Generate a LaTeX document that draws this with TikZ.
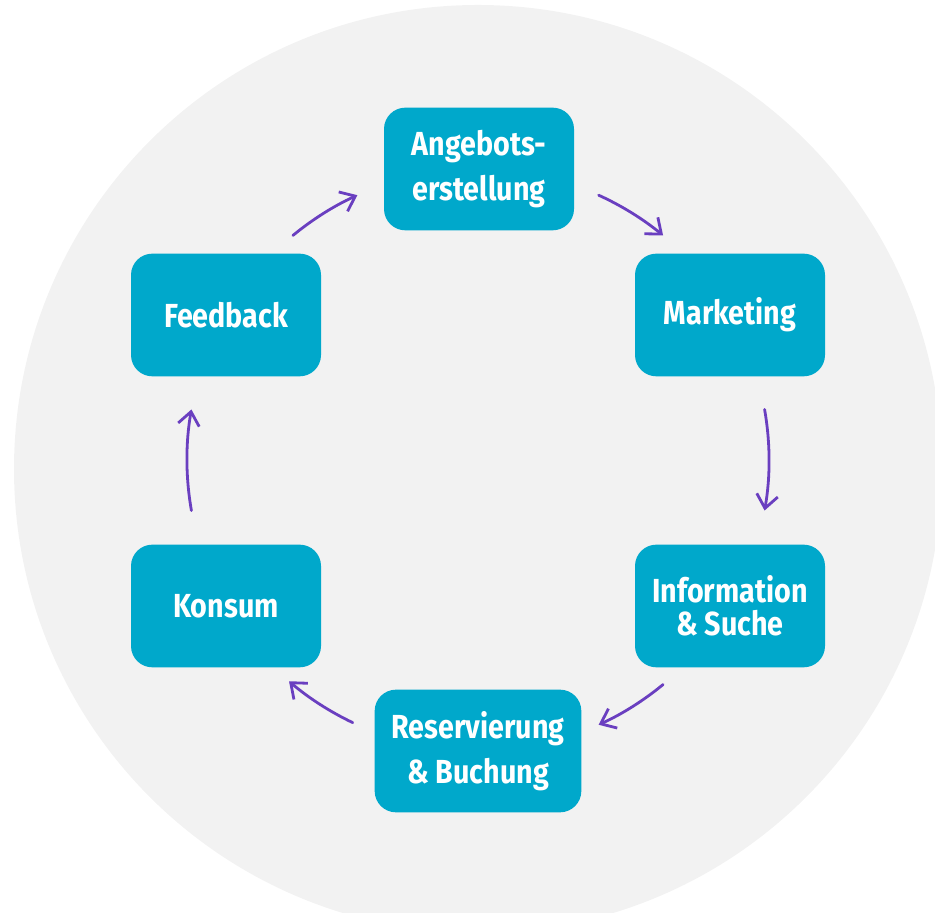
\documentclass[tikz,border=0pt]{standalone}
\usepackage{fontspec}
\setmainfont{Fira Sans}[FakeStretch=0.86]
\usetikzlibrary{arrows.meta,calc}
\definecolor{boxblue}{HTML}{00A8CB}
\definecolor{bggray}{HTML}{F2F2F2}
\definecolor{arrowpurple}{HTML}{6A3FC0}
\tikzset{
  stage/.style={fill=boxblue, rounded corners=16pt, minimum width=142.5pt, minimum height=92pt,
    text=white, align=center, font=\fontsize{25}{34}\selectfont\bfseries, inner sep=0pt},
  cyc/.style={draw=arrowpurple, line width=2.1pt, line cap=round, -{Straight Barb[length=10pt,width=16pt,line width=2.1pt]}}
}
\begin{document}
\begin{tikzpicture}[x=0.75pt,y=0.75pt]
\useasboundingbox (0,0) rectangle (935,913);
\begin{scope}
\clip (0,0) rectangle (935,913);
\fill[bggray] (478,444) circle[radius=464];
\end{scope}
\node[stage] (ang) at (479,744) {Angebots-\\erstellung};
\node[stage] (mkt) at (730,598) {Marketing};
\node[stage, font=\fontsize{25}{25}\selectfont\bfseries] (inf) at (730,307) {Information\\\&~Suche};
\node[stage, minimum width=155pt] (res) at (478,162) {Reservierung\\\&~Buchung};
\node[stage] (kon) at (226,307) {Konsum};
\node[stage] (fee) at (226,598) {Feedback};
\coordinate (ac) at (478,453);
\foreach \n/\s in {a/129.5, b/65.5, c/10, d/-50.5, e/-115.5, f/-170}{
  \coordinate (\n s) at ($(ac)+(\s:291)$);
}
\draw[cyc] (as) arc[start angle=129.5, end angle=114.5, radius=291];
\draw[cyc] (bs) arc[start angle=65.5, end angle=50.5, radius=291];
\draw[cyc] (cs) arc[start angle=10, end angle=-10, radius=291];
\draw[cyc] (ds) arc[start angle=-50.5, end angle=-65.5, radius=291];
\draw[cyc] (es) arc[start angle=-115.5, end angle=-130.5, radius=291];
\draw[cyc] (fs) arc[start angle=-170, end angle=-190, radius=291];
\end{tikzpicture}
\end{document}
